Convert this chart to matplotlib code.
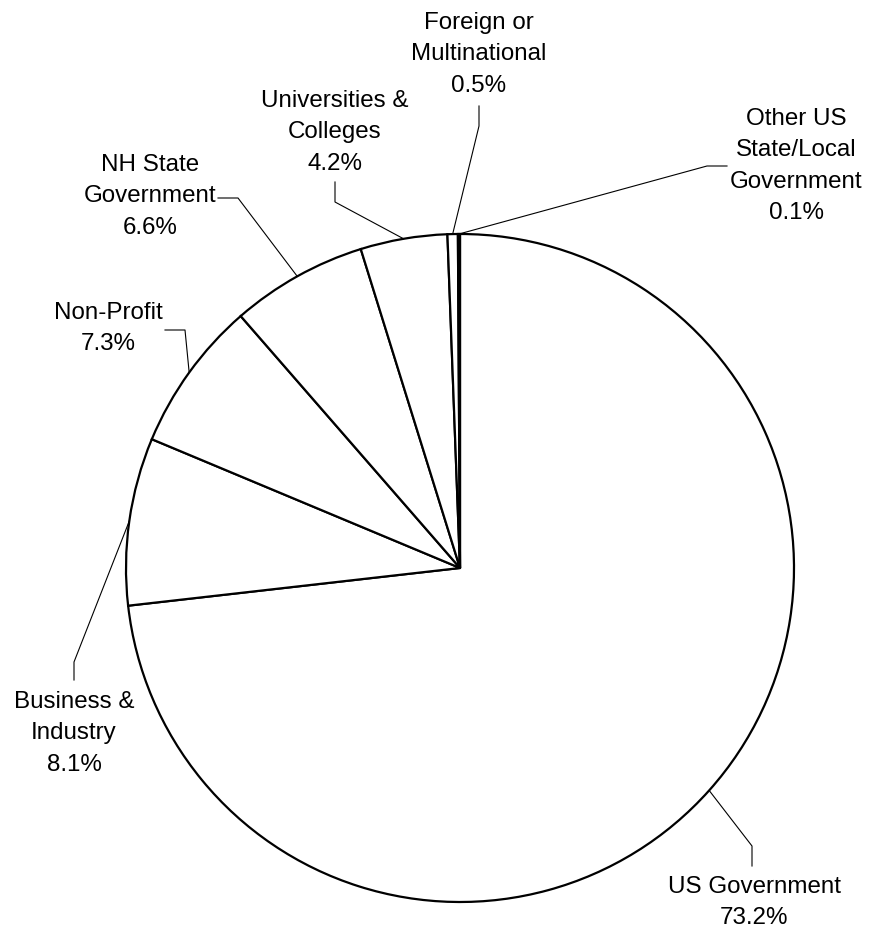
import numpy as np
import matplotlib
matplotlib.use("Agg")
import matplotlib.pyplot as plt

plt.rcParams['font.family'] = ['Liberation Sans', 'DejaVu Sans']

# funding sources, clockwise from 12 o'clock
names = ["US Government", "Business &\nIndustry", "Non-Profit", "NH State\nGovernment",
         "Universities &\nColleges", "Foreign or\nMultinational",
         "Other US\nState/Local\nGovernment"]
shares = [73.2, 8.1, 7.3, 6.6, 4.2, 0.5, 0.1]

# label layout in pixel coords (y down): text anchor, leader bend, leader end
text_pos = [(754, 876), (74, 691), (108, 302), (150, 154), (335, 90), (479, 12), (796, 108)]
bend_pos = [(752, 846), (74, 662), (185, 330), (238, 198), (335, 202), (479, 126), (707, 166)]
end_pos = [(752, 866), (74, 680), (165, 330), (218, 198), (335, 182), (479, 106), (727, 166)]

W, H = 871, 930
cx, cy, R = 460, 568, 334

fig = plt.figure(figsize=(W / 100, H / 100), dpi=100)
ax = fig.add_axes([0, 0, 1, 1])

# y axis runs downward, so counterclock in data = clockwise on screen
wedges, _ = ax.pie(shares, center=(cx, cy), radius=R, startangle=-90, counterclock=True,
                   colors=['white'] * len(shares),
                   wedgeprops=dict(edgecolor='black', linewidth=1.6))
ax.set_xlim(0, W)
ax.set_ylim(H, 0)
ax.set_aspect('equal')
ax.axis('off')

for w, name, val, tp, bp, ep in zip(wedges, names, shares, text_pos, bend_pos, end_pos):
    mid = np.deg2rad((w.theta1 + w.theta2) / 2)
    px, py = cx + R * np.cos(mid), cy + R * np.sin(mid)
    ax.plot([px, bp[0], ep[0]], [py, bp[1], ep[1]], color='black', lw=0.8)
    ax.text(tp[0], tp[1], f"{name}\n{val:.1f}%", ha='center', va='top',
            fontsize=17.4, linespacing=1.55)

fig.savefig("out.png", dpi=100, facecolor='white')
